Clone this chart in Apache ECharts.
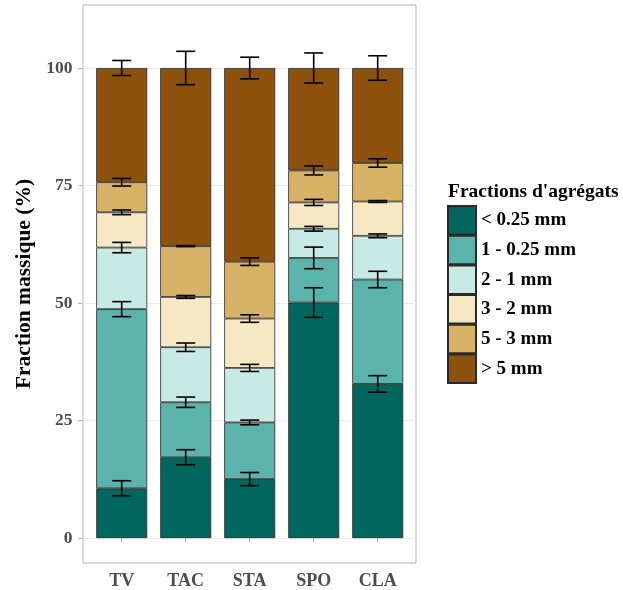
<!DOCTYPE html>
<html>
<head>
<meta charset="utf-8">
<script src="https://cdn.jsdelivr.net/npm/echarts@6/dist/echarts.min.js"></script>
<style>html,body{margin:0;padding:0;background:#fff}#c{width:623px;height:590px}</style>
</head>
<body>
<div id="c"></div>
<script>
const categories = ['TV', 'TAC', 'STA', 'SPO', 'CLA'];
const fractionNames = ['< 0.25 mm', '1 - 0.25 mm', '2 - 1 mm', '3 - 2 mm', '5 - 3 mm', '> 5 mm'];
const fractionColors = ['#01665e', '#5ab4ac', '#c7eae5', '#f6e8c3', '#d8b365', '#8c510a'];
const yTicks = [0, 25, 50, 75, 100];

// mean mass fraction (%) per category, bottom to top of stack
const lt025 = [10.6, 17.2, 12.55, 50.1, 32.8];
const f1_025 = [38.1, 11.7, 12.05, 9.5, 22.2];
const f2_1 = [13.1, 11.7, 11.6, 6.2, 9.3];
const f3_2 = [7.5, 10.7, 10.5, 5.6, 7.3];
const f5_3 = [6.4, 10.8, 12.1, 6.8, 8.2];
const gt5 = [24.3, 37.9, 41.2, 21.8, 20.2];

// standard deviations
const lt025Err = [1.6, 1.6, 1.4, 3.15, 1.75];
const f1_025Err = [1.6, 1.1, 0.5, 2.3, 1.75];
const f2_1Err = [1.1, 0.9, 0.75, 0.5, 0.4];
const f3_2Err = [0.5, 0.3, 0.8, 0.65, 0.2];
const f5_3Err = [0.8, 0.1, 0.8, 0.95, 0.9];
const gt5Err = [1.6, 3.55, 2.3, 3.2, 2.6];

const values = [lt025, f1_025, f2_1, f3_2, f5_3, gt5];
const errors = [lt025Err, f1_025Err, f2_1Err, f3_2Err, f5_3Err, gt5Err];

const FONT = '"Liberation Serif", "Times New Roman", serif';
const Y_MIN = -5.3, Y_MAX = 113.4;

const barSeries = values.map((arr, s) => ({
  name: fractionNames[s],
  type: 'bar',
  stack: 'total',
  xAxisIndex: 1, yAxisIndex: 1,
  barWidth: 51,
  itemStyle: { color: fractionColors[s], borderColor: '#2a2a2a', borderWidth: 0.8 },
  emphasis: { disabled: true },
  data: arr
}));

// error bar data: [category index, cumulative top, sd]
const errData = [];
categories.forEach((c, i) => {
  let cum = 0;
  values.forEach((arr, s) => {
    cum += arr[i];
    errData.push([i, cum, errors[s][i]]);
  });
});

const errSeries = {
  type: 'custom',
  xAxisIndex: 1, yAxisIndex: 1,
  z: 10,
  silent: true,
  data: errData,
  renderItem: function (params, api) {
    const x = api.value(0), y = api.value(1), e = api.value(2);
    const top = api.coord([x, y + e]);
    const bot = api.coord([x, y - e]);
    const hw = 9.5;
    const st = { stroke: '#000', lineWidth: 1.6 };
    return {
      type: 'group',
      children: [
        { type: 'line', shape: { x1: top[0], y1: top[1], x2: bot[0], y2: bot[1] }, style: st },
        { type: 'line', shape: { x1: top[0] - hw, y1: top[1], x2: top[0] + hw, y2: top[1] }, style: st },
        { type: 'line', shape: { x1: bot[0] - hw, y1: bot[1], x2: bot[0] + hw, y2: bot[1] }, style: st }
      ]
    };
  }
};

const chart = echarts.init(document.getElementById('c'), null, { renderer: 'canvas' });
chart.setOption({
  animation: false,
  backgroundColor: '#fff',
  title: {
    text: "Fractions d'agrégats",
    left: 443, top: 177,
    textStyle: { fontFamily: FONT, fontWeight: 'bold', fontSize: 19.5, color: '#000' }
  },
  legend: {
    orient: 'vertical',
    left: 442, top: 200,
    icon: 'rect',
    itemWidth: 28, itemHeight: 28.5, itemGap: -0.8,
    selectedMode: false,
    data: fractionNames,
    textStyle: { fontFamily: FONT, fontWeight: 'bold', fontSize: 19, color: '#000' }
  },
  grid: [
    { left: 83, right: 207, top: 5, bottom: 27, show: true, borderColor: '#b3b3b3', borderWidth: 1 },
    { left: 89.7, right: 213.3, top: 5, bottom: 27 }
  ],
  xAxis: [
    { type: 'value', gridIndex: 0, show: false, min: 0, max: 1 },
    {
      type: 'category', gridIndex: 1, data: categories,
      axisLine: { show: false },
      splitLine: { show: false },
      axisTick: { show: true, alignWithLabel: true, length: 4.5, lineStyle: { color: '#b3b3b3' } },
      axisLabel: { fontFamily: FONT, fontWeight: 'bold', fontSize: 18, color: '#4d4d4d', margin: 9 }
    }
  ],
  yAxis: [
    {
      type: 'value', gridIndex: 0, min: Y_MIN, max: Y_MAX,
      name: 'Fraction massique (%)',
      nameLocation: 'middle', nameRotate: 90, nameGap: 43,
      nameTextStyle: { fontFamily: FONT, fontWeight: 'bold', fontSize: 21.5, color: '#000' },
      axisLine: { show: false },
      axisTick: { show: true, customValues: yTicks, length: 4.5, lineStyle: { color: '#b3b3b3' } },
      splitLine: { show: true, lineStyle: { color: '#ebebeb', width: 1 } },
      axisLabel: { customValues: yTicks, fontFamily: FONT, fontWeight: 'bold', fontSize: 17.5, color: '#4d4d4d', margin: 10.5 }
    },
    { type: 'value', gridIndex: 1, min: Y_MIN, max: Y_MAX, show: false, splitLine: { show: false } }
  ],
  series: barSeries.concat([errSeries])
});
</script>
</body>
</html>
